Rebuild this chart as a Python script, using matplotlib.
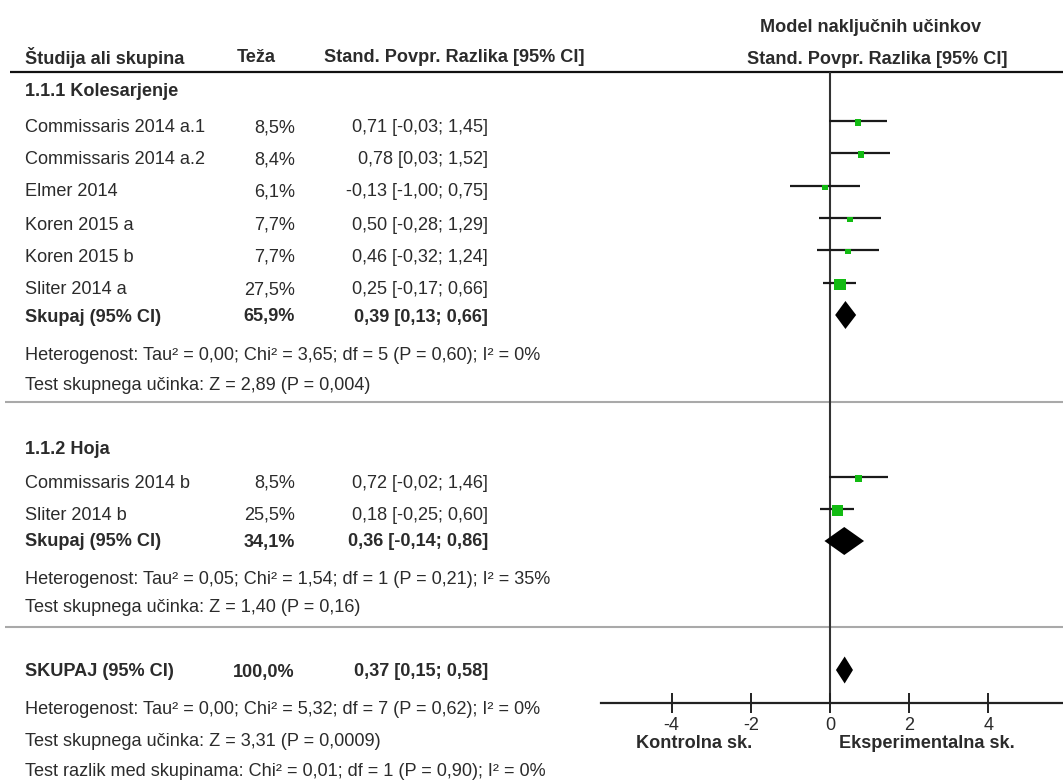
import matplotlib
matplotlib.use("Agg")
import matplotlib.pyplot as plt

plt.rcParams['font.family'] = ['Liberation Sans Narrow', 'Liberation Sans', 'DejaVu Sans']
plt.rcParams['axes.unicode_minus'] = False

# ---------------- data ----------------
g1_studies = ["Commissaris 2014 a.1", "Commissaris 2014 a.2", "Elmer 2014",
              "Koren 2015 a", "Koren 2015 b", "Sliter 2014 a"]
g1_weight = [8.5, 8.4, 6.1, 7.7, 7.7, 27.5]
g1_smd = [0.71, 0.78, -0.13, 0.50, 0.46, 0.25]
g1_lo = [-0.03, 0.03, -1.00, -0.28, -0.32, -0.17]
g1_hi = [1.45, 1.52, 0.75, 1.29, 1.24, 0.66]
g1_total = (65.9, 0.39, 0.13, 0.66)

g2_studies = ["Commissaris 2014 b", "Sliter 2014 b"]
g2_weight = [8.5, 25.5]
g2_smd = [0.72, 0.18]
g2_lo = [-0.02, -0.25]
g2_hi = [1.46, 0.60]
g2_total = (34.1, 0.36, -0.14, 0.86)

overall_total = (100.0, 0.37, 0.15, 0.58)

g1_het = "Heterogenost: Tau² = 0,00; Chi² = 3,65; df = 5 (P = 0,60); I² = 0%"
g1_test = "Test skupnega učinka: Z = 2,89 (P = 0,004)"
g2_het = "Heterogenost: Tau² = 0,05; Chi² = 1,54; df = 1 (P = 0,21); I² = 35%"
g2_test = "Test skupnega učinka: Z = 1,40 (P = 0,16)"
all_het = "Heterogenost: Tau² = 0,00; Chi² = 5,32; df = 7 (P = 0,62); I² = 0%"
all_test = "Test skupnega učinka: Z = 3,31 (P = 0,0009)"
all_diff = "Test razlik med skupinama: Chi² = 0,01; df = 1 (P = 0,90); I² = 0%"

x_ticks = [-4, -2, 0, 2, 4]
x_tick_labels = ["-4", "-2", "0", "2", "4"]

# ---------------- layout (pixels) ----------------
W, H = 1063, 783
TXT = '#2b2b2b'
GREEN = '#12bb12'
FS = 13.1

fig = plt.figure(figsize=(W / 100, H / 100), dpi=100)
base = fig.add_axes([0, 0, 1, 1])
base.set_xlim(0, W)
base.set_ylim(H, 0)
base.axis('off')

X_NAME, X_W, X_CI = 25, 295, 488

def fmt(v):
    return f"{v:.2f}".replace('.', ',')

def ci_str(e, l, h):
    return f"{fmt(e)} [{fmt(l)}; {fmt(h)}]"

def wstr(w):
    return f"{w:.1f}%".replace('.', ',')

def t(x, y, s, bold=False, ha='left', size=FS):
    base.text(x, y, s, ha=ha, va='center', fontsize=size, color=TXT,
              fontweight='bold' if bold else 'normal')

# header
t(X_NAME, 58, "Študija ali skupina", bold=True)
t(237, 58, "Teža", bold=True)
t(585, 58, "Stand. Povpr. Razlika [95% CI]", bold=True, ha='right')
t(871, 28, "Model naključnih učinkov", bold=True, ha='center')
t(877, 59, "Stand. Povpr. Razlika [95% CI]", bold=True, ha='center')
base.hlines(72, 10, W, color='#111111', lw=1.6)

# group 1
t(X_NAME, 92, "1.1.1 Kolesarjenje", bold=True)
g1_txt_y = [128, 160, 192, 225, 257, 290]
for name, w, e, l, h, y in zip(g1_studies, g1_weight, g1_smd, g1_lo, g1_hi, g1_txt_y):
    t(X_NAME, y, name)
    t(X_W, y, wstr(w), ha='right')
    t(X_CI, y, ci_str(e, l, h), ha='right')
t(X_NAME, 317, "Skupaj (95% CI)", bold=True)
t(X_W, 317, wstr(g1_total[0]), bold=True, ha='right')
t(X_CI, 317, ci_str(*g1_total[1:]), bold=True, ha='right')
t(X_NAME, 355, g1_het)
t(X_NAME, 385, g1_test)
base.hlines(402, 5, W, color='#a9a9a9', lw=1.5)

# group 2
t(X_NAME, 450, "1.1.2 Hoja", bold=True)
g2_txt_y = [483, 515]
for name, w, e, l, h, y in zip(g2_studies, g2_weight, g2_smd, g2_lo, g2_hi, g2_txt_y):
    t(X_NAME, y, name)
    t(X_W, y, wstr(w), ha='right')
    t(X_CI, y, ci_str(e, l, h), ha='right')
t(X_NAME, 542, "Skupaj (95% CI)", bold=True)
t(X_W, 542, wstr(g2_total[0]), bold=True, ha='right')
t(X_CI, 542, ci_str(*g2_total[1:]), bold=True, ha='right')
t(X_NAME, 580, g2_het)
t(X_NAME, 607, g2_test)
base.hlines(627, 5, W, color='#a9a9a9', lw=1.5)

# overall
t(X_NAME, 672, "SKUPAJ (95% CI)", bold=True)
t(X_W, 672, wstr(overall_total[0]), bold=True, ha='right')
t(X_CI, 672, ci_str(*overall_total[1:]), bold=True, ha='right')
t(X_NAME, 710, all_het)
t(X_NAME, 741, all_test)
t(X_NAME, 772, all_diff)

# ---------------- forest panel ----------------
AX_L, AX_R, AX_T, AX_B = 601, 1063, 72, 703
ZERO_PX, PPU = 830, 39.6
fx = fig.add_axes([AX_L / W, 1 - AX_B / H, (AX_R - AX_L) / W, (AX_B - AX_T) / H])
fx.patch.set_alpha(0)
fx.set_xlim((AX_L - ZERO_PX) / PPU, (AX_R - ZERO_PX) / PPU)
fx.set_ylim(AX_B, AX_T)
for s in ['left', 'right', 'top']:
    fx.spines[s].set_visible(False)
fx.spines['bottom'].set_linewidth(1.6)
fx.spines['bottom'].set_color('#222222')
fx.set_yticks([])
fx.set_xticks(x_ticks)
fx.set_xticklabels(x_tick_labels)
fx.tick_params(axis='x', direction='inout', length=14, width=1.4, color='#222222',
               labelsize=FS, labelcolor=TXT, pad=3)
fx.axvline(0, color='#333333', lw=1.5, zorder=1)

def side_pt(w):
    return 2.15 * (w ** 0.5) * 0.72

g1_mk_y = [121, 153, 186, 218, 250, 283]
fx.hlines(g1_mk_y, g1_lo, g1_hi, color='#1a1a1a', lw=1.6, zorder=2)
fx.scatter(g1_smd, [y + 1.5 for y in g1_mk_y], marker='s',
           s=[side_pt(w) ** 2 for w in g1_weight], color=GREEN, linewidths=0, zorder=3)

g2_mk_y = [477, 509]
fx.hlines(g2_mk_y, g2_lo, g2_hi, color='#1a1a1a', lw=1.6, zorder=2)
fx.scatter(g2_smd, [y + 1.5 for y in g2_mk_y], marker='s',
           s=[side_pt(w) ** 2 for w in g2_weight], color=GREEN, linewidths=0, zorder=3)

def diamond(y, e, l, h, half=14):
    fx.fill([l, e, h, e], [y, y - half, y, y + half], color='black', zorder=3, lw=0)

diamond(315, *g1_total[1:])
diamond(541, *g2_total[1:])
diamond(670, *overall_total[1:], half=13.5)

# axis captions
t(694, 744, "Kontrolna sk.", bold=True, ha='center')
t(927, 744, "Eksperimentalna sk.", bold=True, ha='center')

fig.savefig("out.png", dpi=100)
